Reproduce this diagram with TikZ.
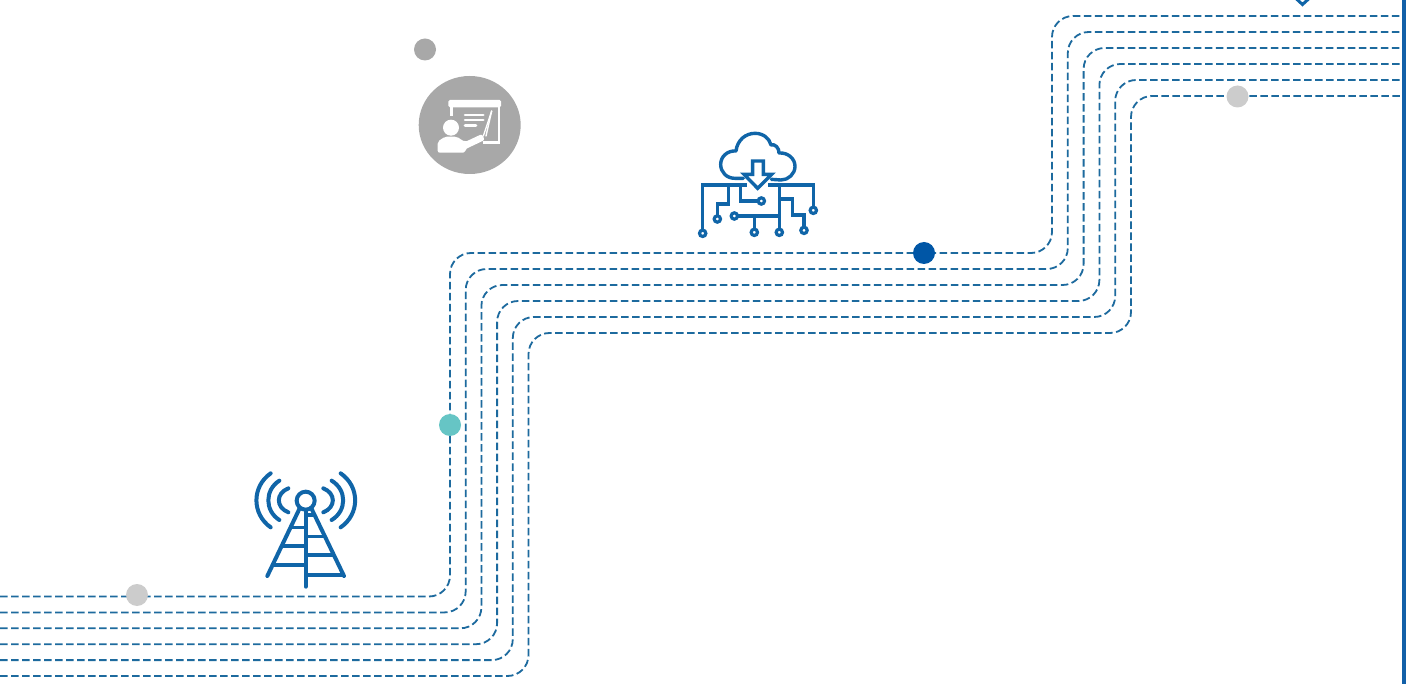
\documentclass[tikz,border=0pt]{standalone}
\usetikzlibrary{shapes.geometric}
\definecolor{iconblue}{HTML}{1065A8}
\definecolor{lineblue}{HTML}{1D6A9E}
\definecolor{barblue}{HTML}{1260A8}
\definecolor{dotgray}{HTML}{CCCCCC}
\definecolor{icongray}{HTML}{A8A8A8}
\definecolor{dotteal}{HTML}{66C5C5}
\definecolor{dotblue}{HTML}{0056A6}
\tikzset{
  route/.style={draw=lineblue,line width=1.8pt,dash pattern=on 7.5pt off 3.5pt,rounded corners=21pt},
  dotnode/.style={circle,minimum size=22pt,inner sep=0pt,fill=#1},
  iconline/.style={draw=iconblue,line width=4pt,line cap=round,line join=round},
  circuit/.style={draw=iconblue,line width=3.2pt,line join=miter},
  whiteline/.style={draw=white,line width=2.6pt,line cap=round}
}
\begin{document}
\begin{tikzpicture}[x=1pt,y=-1pt]
\useasboundingbox (0,0) rectangle (1406,684);
\clip (0,0) rectangle (1406,684);
\fill[white] (0,0) rectangle (1406,684);
% routes
\foreach \i in {0,...,5}{
  \pgfmathsetmacro{\yb}{596.5+15.9*\i}
  \pgfmathsetmacro{\xa}{450+15.7*\i}
  \pgfmathsetmacro{\ym}{253+16*\i}
  \pgfmathsetmacro{\xb}{1052+15.8*\i}
  \pgfmathsetmacro{\yt}{16+16*\i}
  \draw[route] (0,\yb) -- (\xa,\yb) -- (\xa,\ym) -- (\xb,\ym) -- (\xb,\yt) -- (1402,\yt);
}
% right bar
\fill[barblue] (1402,0) rectangle (1406,684);
% dots
\node[dotnode=dotgray] (dotA) at (137,595) {};
\node[dotnode=dotteal] (dotB) at (450,425) {};
\node[dotnode=dotblue] (dotC) at (924,253) {};
\node[dotnode=dotgray] (dotD) at (1237.5,96.5) {};
\node[dotnode=icongray] (dotE) at (425,49.5) {};
% chevron at top
\draw[iconblue,line width=3pt] (1296.5,-1) -- (1302.5,4.5) -- (1308.5,-1);
% presenter icon
\node[ellipse,minimum width=102pt,minimum height=98pt,inner sep=0pt,fill=icongray] (presenter) at (469.7,125) {};
\begin{scope}[shift={(400,30)},xscale=1/3,yscale=1/3]
  \fill[white,rounded corners=1.5pt] (145,210) rectangle (303,232);
  \draw[whiteline,line cap=butt] (155,232) -- (155,258);
  \draw[whiteline,line cap=butt] (297,232) -- (297,338) -- (250,338);
  \draw[whiteline] (195,255) -- (250,255);
  \draw[whiteline] (195,270) -- (250,270);
  \draw[whiteline] (195,287) -- (228,287);
  \draw[whiteline,line width=1.4pt] (275,243) -- (250,318);
  \draw[whiteline,line width=1.4pt] (275,243) -- (258,318);
  \fill[white] (153,293) circle (24);
  \fill[white,rounded corners=2pt] (113,368) -- (113,335) -- (135,320) -- (170,320) -- (195,336) -- (246,312) -- (254,330) -- (195,358) -- (195,368) -- cycle;
\end{scope}
% cloud icon
\begin{scope}[shift={(680,125)},xscale=1/3,yscale=1/3]
  \draw[iconline,line width=3.4pt] (190,160) -- (165,160) .. controls (140,160) and (122,142) .. (122,118)
    .. controls (122,95) and (142,76) .. (168,78)
    .. controls (172,45) and (197,25) .. (225,25)
    .. controls (250,25) and (268,40) .. (273,60)
    .. controls (285,55) and (298,70) .. (297,84)
    .. controls (325,82) and (345,102) .. (345,124)
    .. controls (345,147) and (325,165) .. (303,165)
    -- (274,163);
  \draw[iconline,line width=3.4pt,line join=miter] (218,108) -- (250,108) -- (250,148) -- (275,148) -- (233,190) -- (192,148) -- (218,148) -- cycle;
  \draw[circuit] (200,180) -- (68,180) -- (68,316);
  \draw[circuit] (145,180) -- (145,237) -- (112,237) -- (112,273);
  \draw[circuit] (182,180) -- (182,228) -- (235,228);
  \draw[circuit] (265,180) -- (400,180) -- (400,247);
  \draw[circuit] (298,180) -- (298,313);
  \draw[circuit] (298,222) -- (338,222) -- (338,270) -- (372,270) -- (372,307);
  \draw[circuit] (172,273) -- (298,273);
  \draw[circuit] (223,273) -- (223,313);
  \foreach \p in {(68,325),(112,282),(244,228),(400,256),(298,322),(372,316),(163,273),(223,322)}
    \draw[circuit,fill=white] \p circle (9.5);
\end{scope}
% tower icon
\begin{scope}[shift={(240,465)},xscale=1/3,yscale=1/3]
  \draw[iconline] (197,107) circle (27);
  \draw[iconline] (197,135) -- (197,365);
  \draw[iconline] (178,132) -- (82,333);
  \draw[iconline] (215,132) -- (312,333);
  \draw[iconline,line width=3.4pt,line cap=butt] (197,150) -- (224,150);
  \draw[iconline,line width=3.4pt,line cap=butt] (154,188) -- (197,188);
  \draw[iconline,line width=3.4pt,line cap=butt] (197,215) -- (255,215);
  \draw[iconline,line width=3.4pt,line cap=butt] (128,243) -- (197,243);
  \draw[iconline,line width=3.4pt,line cap=butt] (197,270) -- (283,270);
  \draw[iconline,line width=3.4pt,line cap=butt] (103,300) -- (197,300);
  \draw[iconline,line width=3.4pt,line cap=butt] (197,330) -- (310,330);
  \draw[iconline] (145,70) .. controls (107,85) and (107,127) .. (145,142);
  \draw[iconline] (118,47) .. controls (74,75) and (74,137) .. (118,165);
  \draw[iconline] (92,25) .. controls (35,65) and (35,147) .. (92,187);
  \draw[iconline] (250,70) .. controls (288,85) and (288,127) .. (250,142);
  \draw[iconline] (275,47) .. controls (321,75) and (321,137) .. (275,165);
  \draw[iconline] (302,25) .. controls (360,65) and (360,147) .. (302,187);
\end{scope}
\end{tikzpicture}
\end{document}
